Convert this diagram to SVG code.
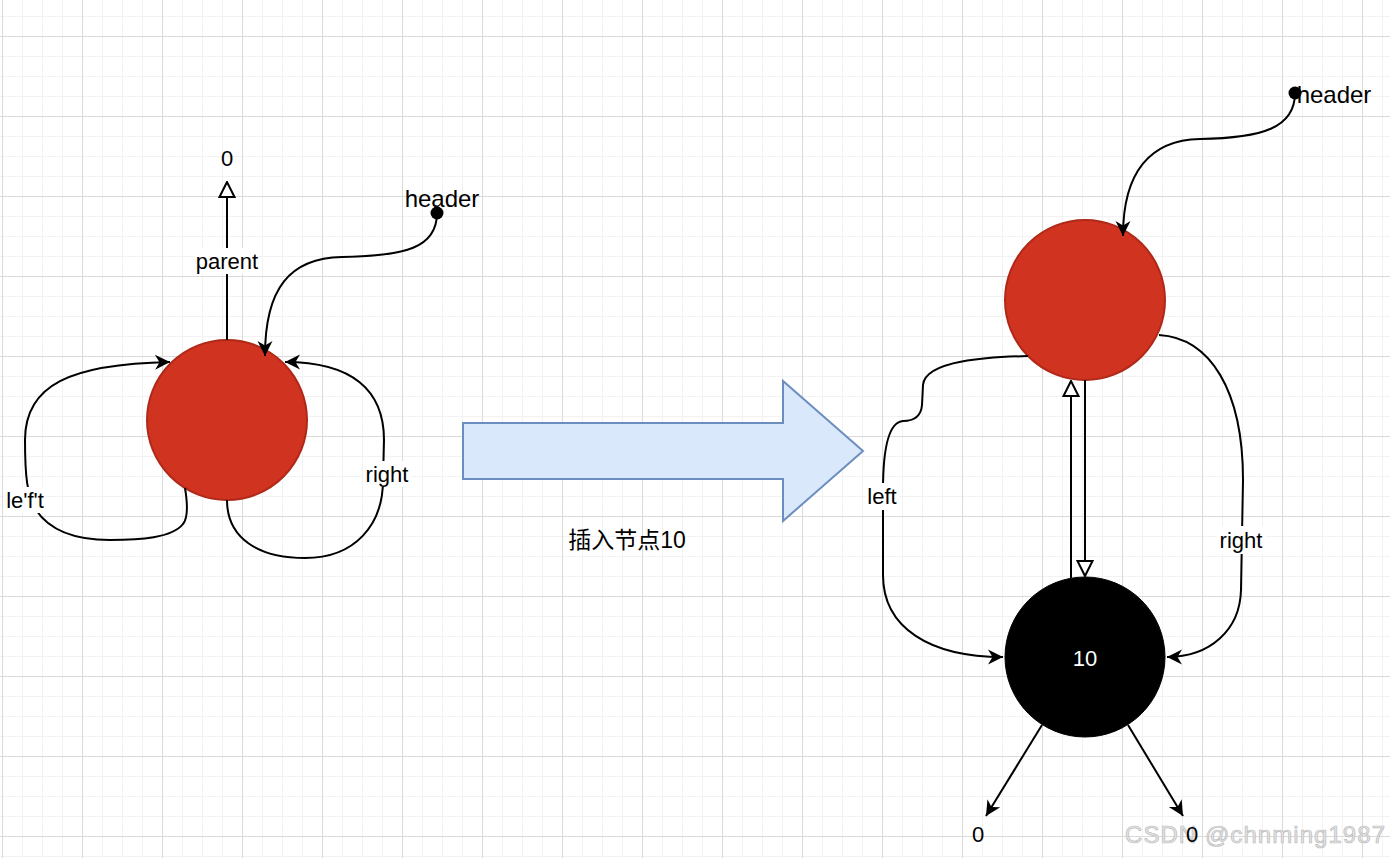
<svg xmlns="http://www.w3.org/2000/svg" width="1390" height="858" viewBox="0 0 1390 858">
<style>
.t{font-family:"Liberation Sans",Arial,"Noto Sans CJK SC",sans-serif;font-size:22px;fill:#000;text-anchor:middle;dominant-baseline:central}
.h{font-size:24px}
.ln{fill:none;stroke:#000;stroke-width:2}
.red{fill:#d03320;stroke:#b02818;stroke-width:2}
.bg{fill:#fff}
</style>
<defs>
<pattern id="minor" x="2" y="16" width="20" height="20" patternUnits="userSpaceOnUse">
<rect x="0" y="0" width="1" height="20" fill="#f2f2f2"/>
<rect x="0" y="0" width="20" height="1" fill="#f2f2f2"/>
</pattern>
<pattern id="major" x="2" y="36" width="80" height="80" patternUnits="userSpaceOnUse">
<rect x="0" y="0" width="1" height="80" fill="#dadada"/>
<rect x="0" y="0" width="80" height="1" fill="#dadada"/>
</pattern>
<marker id="arr" viewBox="-16 -9 17 18" refX="0" refY="0" markerWidth="17" markerHeight="18" markerUnits="userSpaceOnUse" orient="auto">
<path d="M0,0 L-15,-7.5 L-10.5,0 L-15,7.5 Z" fill="#000"/>
</marker>
<marker id="tri" viewBox="-17 -9 18 18" refX="0" refY="0" markerWidth="18" markerHeight="18" markerUnits="userSpaceOnUse" orient="auto">
<path d="M0,0 L-15,-7.5 L-15,7.5 Z" fill="#fff" stroke="#000" stroke-width="2" stroke-linejoin="miter"/>
</marker>
</defs>
<rect width="1390" height="858" fill="#fff"/>
<rect width="1390" height="858" fill="url(#minor)"/>
<rect width="1390" height="858" fill="url(#major)"/>

<g id="nodeA">
<circle class="red" cx="227" cy="420" r="80"/>
</g>
<g id="nodeRoot">
<circle class="red" cx="1085" cy="300" r="80"/>
</g>
<g id="node10">
<circle cx="1085" cy="657" r="80" fill="#000" stroke="#000" stroke-width="1"/>
<text class="t" x="1085" y="658" style="fill:#fff">10</text>
</g>
<g id="bigArrow">
<polygon points="463,423 783,423 783,381 863,451 783,521 783,479 463,479" fill="#dae8fc" stroke="#6c8ebf" stroke-width="2"/>
<text class="t" x="627" y="540" style="font-size:23px">插入节点10</text>
</g>
<g id="zeroTop"><text class="t" x="227" y="158">0</text></g>
<g id="headerL">
<text class="t h" x="442" y="198">header</text>
<circle cx="437" cy="213" r="6.5" fill="#000"/>
</g>
<g id="headerR">
<text class="t h" x="1334" y="94">header</text>
<circle cx="1295" cy="93" r="6.5" fill="#000"/>
</g>

<g id="connectors">
<path class="ln" d="M227 340 L227 182" marker-end="url(#tri)"/>
<rect class="bg" x="195" y="248" width="64" height="26"/>
<text class="t" x="227" y="261">parent</text>

<path class="ln" d="M437 213 C437 248 405 256 342 257 C290 258 265 288 265 356" marker-end="url(#arr)"/>

<path class="ln" d="M185 488 C188 506 188 518 183 524 C172 538 140 540 110 540 C72 540 48 528 36 510 C27 496 25 475 25 440 C25 385 70 364 170 362" marker-end="url(#arr)"/>
<rect class="bg" x="5" y="487" width="41" height="26"/>
<text class="t" x="25" y="500">le'f't</text>

<path class="ln" d="M227 500 C227 538 258 558 305 558 C355 558 383 525 383 480 L384 440 C384 390 352 362 285 362" marker-end="url(#arr)"/>
<rect class="bg" x="363" y="461" width="48" height="26"/>
<text class="t" x="387" y="474">right</text>

<path class="ln" d="M1295 93 C1295 128 1262 138 1200 139 C1150 140 1123 172 1123 236" marker-end="url(#arr)"/>

<path class="ln" d="M1028 356 C990 357 925 360 923 385 L922 405 C921 417 913 421 903 421 C890 422 883 445 883 490 L883 575 C883 628 930 657 1003 657" marker-end="url(#arr)"/>
<rect class="bg" x="866" y="483" width="33" height="27"/>
<text class="t" x="882" y="496">left</text>

<path class="ln" d="M1159 335 C1210 338 1243 390 1243 480 L1241 590 C1240 630 1210 657 1167 657" marker-end="url(#arr)"/>
<rect class="bg" x="1217" y="526" width="49" height="28"/>
<text class="t" x="1241" y="540">right</text>

<path class="ln" d="M1071 578 L1071 381" marker-end="url(#tri)"/>
<path class="ln" d="M1085 380 L1085 576" marker-end="url(#tri)"/>

<path class="ln" d="M1042 725 L986 816" marker-end="url(#arr)"/>
<path class="ln" d="M1128 725 L1183 816" marker-end="url(#arr)"/>
</g>

<text x="1255" y="834" font-family="'Liberation Sans',Arial,sans-serif" font-size="24" text-anchor="middle" dominant-baseline="central" fill="#e4e4e4" stroke="#bcbcbc" stroke-width="0.7" textLength="260">CSDN @chnming1987</text>
<g id="zeroL"><text class="t" x="978" y="834">0</text></g>
<g id="zeroR"><text class="t" x="1192" y="834">0</text></g>
</svg>
